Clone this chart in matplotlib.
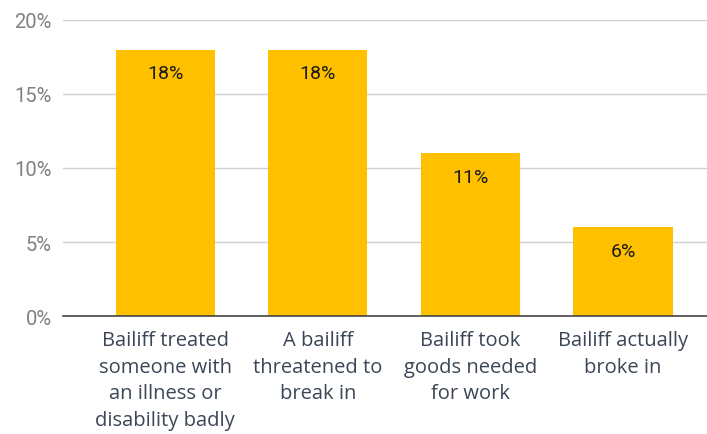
import matplotlib
matplotlib.use('Agg')
import matplotlib.pyplot as plt
from matplotlib.ticker import FuncFormatter

# Data
categories = ['Bailiff treated\nsomeone with\nan illness or\ndisability badly',
              'A bailiff\nthreatened to\nbreak in',
              'Bailiff took\ngoods needed\nfor work',
              'Bailiff actually\nbroke in']
values = [18, 18, 11, 6]
yticks = [0, 5, 10, 15, 20]

fig = plt.figure(figsize=(7.07, 4.35), dpi=100)
ax = fig.add_axes([0.089, 0.271, 0.911, 0.681])

x = range(len(values))
bars = ax.bar(x, values, width=0.65, color='#FFC000', zorder=2)

# value labels inside bars
for xi, v in zip(x, values):
    ax.annotate(f'{v}%', (xi, v), xytext=(0, -17), textcoords='offset points',
                ha='center', va='center', fontsize=14, color='#1a1a1a',
                family='Roboto', zorder=3)

ax.set_ylim(0, 20)
ax.set_xlim(-0.67, 3.55)
ax.set_yticks(yticks)
ax.yaxis.set_major_formatter(FuncFormatter(lambda v, p: f'{v:.0f}%'))
ax.grid(axis='y', color='#d0d0d0', linewidth=1, zorder=0)

for side in ['top', 'right', 'left']:
    ax.spines[side].set_visible(False)
ax.spines['bottom'].set_color('#444444')
ax.spines['bottom'].set_linewidth(1.2)
ax.spines['bottom'].set_zorder(4)

ax.tick_params(axis='y', length=0, pad=8, labelsize=14.5, labelcolor='#808080')
for t in ax.get_yticklabels():
    t.set_family('Roboto')
ax.tick_params(axis='x', length=0, pad=10)
ax.set_xticks(list(x))
ax.set_xticklabels(categories, fontsize=14.5, color='#3b4656',
                   family='Open Sans', linespacing=1.44, multialignment='center')

fig.savefig('out.png', dpi=100)
